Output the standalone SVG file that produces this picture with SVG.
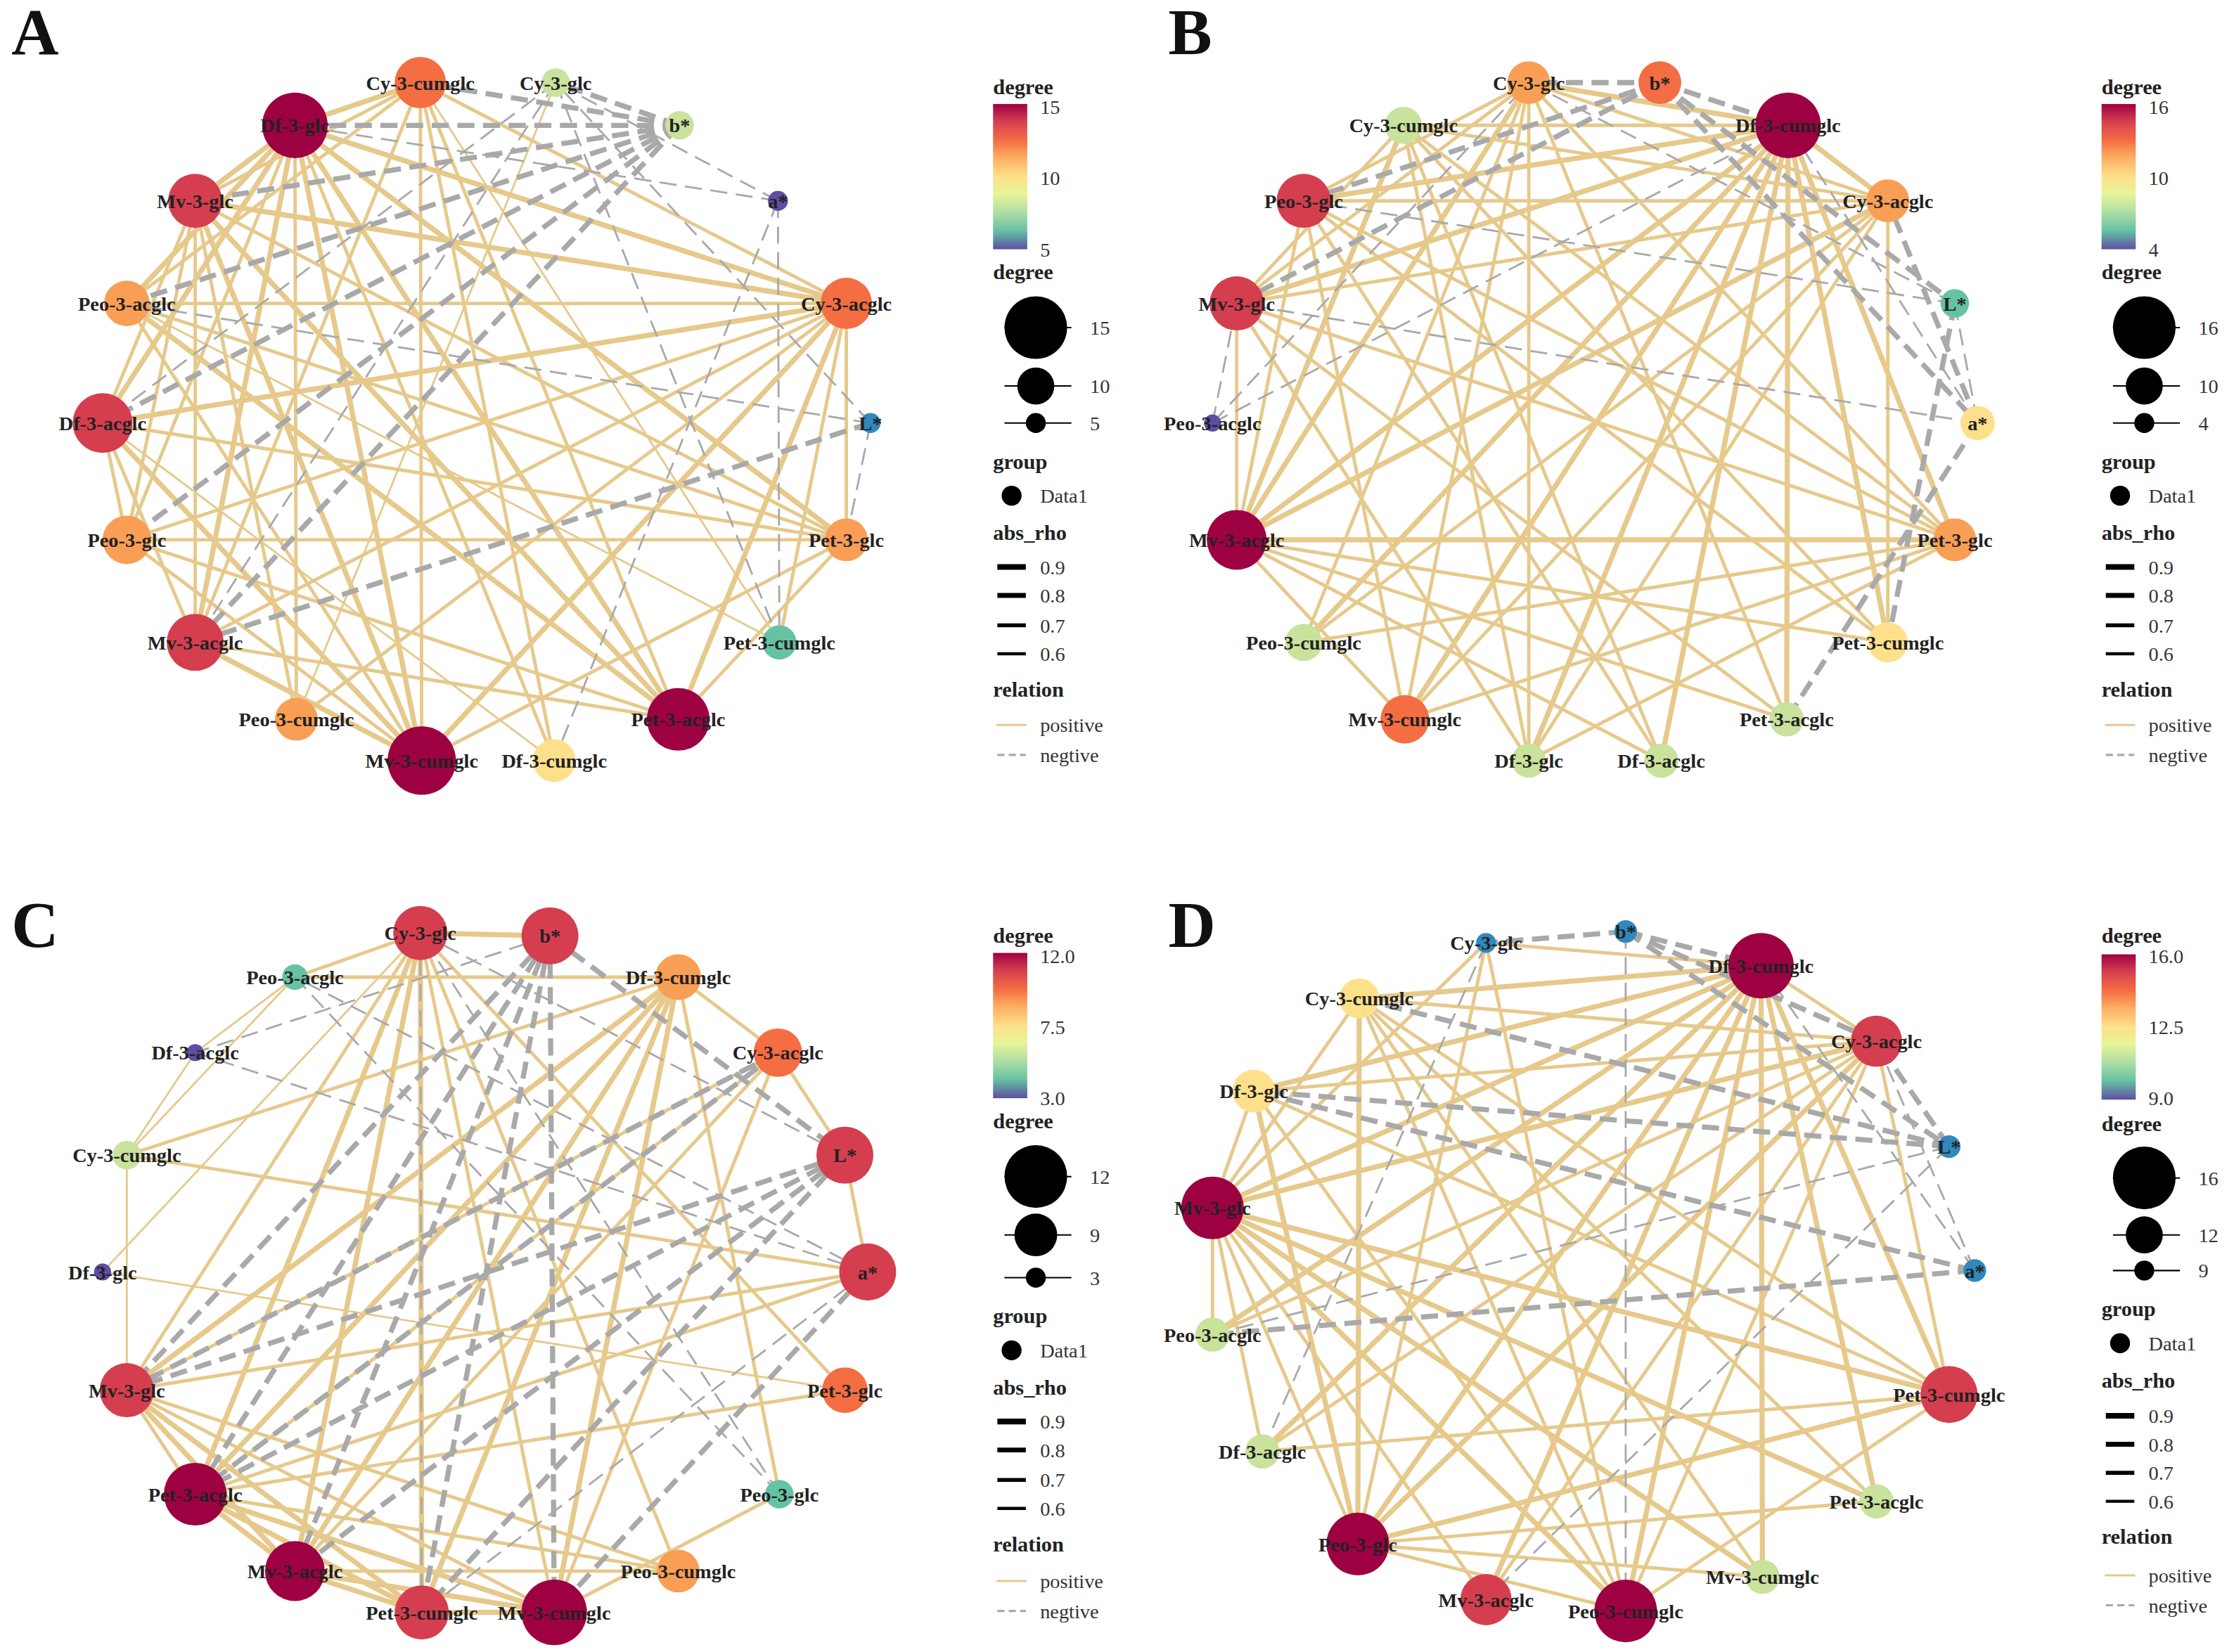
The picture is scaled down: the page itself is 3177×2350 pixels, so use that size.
<svg xmlns="http://www.w3.org/2000/svg" width="3177" height="2350" viewBox="0 0 3177 2350">
<style>
.pos{stroke:#E6C98B;fill:none;stroke-linecap:round}
.neg{stroke:#A9A9A9;fill:none;stroke-dasharray:12 6}
.w1{stroke-width:1.4}.w2{stroke-width:2.4}.w3{stroke-width:3.6}
.lb{font-family:"Liberation Serif",serif;font-weight:bold;font-size:14px;fill:#222;text-anchor:middle}
.lg{font-family:"Liberation Serif",serif;font-size:14px;fill:#333}
.lt{font-family:"Liberation Serif",serif;font-weight:bold;font-size:15px;fill:#222}
.pl{font-family:"Liberation Serif",serif;font-weight:bold;font-size:46px;fill:#111}
.c1{fill:#9E0142}.c2{fill:#D53E4F}.c3{fill:#F46D43}.c4{fill:#F99E55}.c5{fill:#FEE08B}.c6{fill:#C9E29C}.c7{fill:#66C2A5}.c8{fill:#3288BD}.c9{fill:#5E4FA2}
</style>
<defs>
<linearGradient id="sp" x1="0" y1="0" x2="0" y2="1">
<stop offset="0" stop-color="#9E0142"/><stop offset="0.12" stop-color="#D53E4F"/><stop offset="0.25" stop-color="#F46D43"/><stop offset="0.37" stop-color="#FDAE61"/><stop offset="0.5" stop-color="#FEE08B"/><stop offset="0.62" stop-color="#E6F598"/><stop offset="0.75" stop-color="#ABDDA4"/><stop offset="0.87" stop-color="#66C2A5"/><stop offset="1" stop-color="#5E4FA2"/>
</linearGradient>
</defs>
<rect width="3177" height="2350" fill="#fff"/>
<g transform="scale(2.0262)">
<g id="connectors">
<!-- A -->
<path class="pos w3" d="M207,88L594,213M207,88L594,379M207,88L476,505M207,88L296,534M207,88L137,451M207,88L72,297M207,88L89,213M207,88L137,141M207,88L295,58M137,141L594,213M137,141L476,505M137,141L296,534M594,213L72,297M594,213L296,534M594,213L476,505M296,534L72,297M476,505L89,213M296,534L137,451"/>
<path class="pos w2" d="M207,88L89,379M207,88L208,505M207,88L389,534M137,141L137,451M137,141L72,297M137,141L594,379M137,141L208,505M137,141L295,58M137,141L89,379M594,213L89,213M594,213L137,451M594,213L89,379M594,213L594,379M594,213L295,58M594,213L208,505M594,213L547,451M296,534L89,213M296,534L594,379M296,534L295,58M296,534L89,379M476,505L137,451M476,505L89,379M476,505L295,58M476,505L594,379M72,297L594,379M72,297L137,451M72,297L89,379M295,58L137,451M295,58L89,213M295,58L389,534M89,213L594,379M89,379L594,379"/>
<path class="pos w1" d="M295,58L547,451M89,213L547,451M72,297L389,534M390,58L208,505"/>
<path class="neg w3" d="M477,88L207,88M477,88L137,141M477,88L89,213M477,88L72,297M477,88L295,58M477,88L390,58M477,88L137,451M477,88L89,379M611,297L137,451"/>
<path class="neg w1" d="M546,141L390,58M546,141L547,451M546,141L389,534M546,141L207,88M611,297L390,58M611,297L89,213M611,297L594,379M390,58L547,451M390,58L137,451M390,58L72,297"/>
<!-- B -->
<path class="pos w3" d="M1255,88L915,141M1255,88L868,213M1255,88L868,379M1255,88L915,451M1255,88L986,505M1255,88L1073,534M1255,88L1166,534M1255,88L1254,505M1255,88L1325,451M1255,88L1372,379M1255,88L1325,141M1255,88L1073,58M868,379L1372,379M868,379L1325,141M868,379L1073,58M868,379L985,88"/>
<path class="pos w2" d="M1255,88L985,88M868,379L1254,505M868,379L1166,534M868,379L915,141M868,379L868,213M868,379L986,505M868,379L1325,451M1073,58L986,505M1073,58L1073,534M1073,58L1254,505M1073,58L915,451M1073,58L1372,379M1073,58L868,213M1073,58L915,141M1073,58L1325,141M985,88L1372,379M985,88L1325,451M985,88L1166,534M985,88L1073,534M985,88L1325,141M985,88L868,213M915,141L1325,141M915,141L1372,379M915,141L1325,451M915,141L1166,534M915,141L986,505M868,213L1325,141M868,213L1372,379M868,213L1254,505M868,213L1073,534M1325,141L986,505M1325,141L1073,534M1325,141L915,451M1325,141L1325,451M1372,379L986,505M1372,379L915,451M1372,379L1073,534"/>
<path class="neg w3" d="M1165,58L1073,58M1165,58L1255,88M1165,58L915,141M1165,58L868,213M1165,58L1372,213M1165,58L1388,297M1372,213L1325,451M1388,297L1325,141M1388,297L1254,505"/>
<path class="neg w1" d="M1372,213L1073,58M1372,213L915,141M1372,213L1388,297M1388,297L868,213M1388,297L1255,88M851,297L1073,58M851,297L868,213M851,297L1255,88"/>
<!-- C -->
<path class="pos w3" d="M295,655L137,1049M295,655L207,1103M295,655L296,1132M476,686L89,976M476,686L137,1049M476,686L207,1103M476,686L296,1132M476,686L389,1132M137,1049L207,1103M137,1049L296,1132M137,1049L389,1132M89,976L207,1103M89,976L296,1132M207,1103L296,1132M207,1103L389,1132M296,1132L389,1132M295,655L386,657"/>
<path class="pos w2" d="M295,655L207,686M295,655L89,976M295,655L389,1132M295,655L476,1103M295,655L593,976M476,686L547,1049M476,686L89,811M476,686L546,739M476,686L207,686M137,1049L89,976M137,1049L476,1103M137,1049L546,739M137,1049L609,893M137,1049L593,976M89,976L389,1132M89,976L546,739M89,976L609,893M89,976L476,1103M207,1103L546,739M207,1103L476,1103M389,1132L546,739M389,1132L547,1049M89,811L609,893M593,811L546,739M593,811L609,893"/>
<path class="pos w1" d="M295,655L72,893M89,811L207,686M89,811L89,976M137,739L207,686M137,739L89,811M72,893L593,976"/>
<path class="neg w3" d="M386,657L137,1049M386,657L89,976M386,657L207,1103M386,657L296,1132M386,657L389,1132M593,811L89,976M593,811L137,1049M593,811L207,1103M593,811L296,1132M546,739L89,976M546,739L137,1049M386,657L593,811M609,893L389,1132"/>
<path class="neg w1" d="M386,657L137,739M593,811L295,655M609,893L137,739M609,893L296,1132M609,893L207,686M547,1049L295,655M547,1049L207,686M295,655L296,1132M386,657L389,1132"/>
<!-- D -->
<path class="pos w3" d="M1236,678L954,701M1236,678L880,766M1236,678L851,848M1236,678L851,937M1236,678L886,1019M1236,678L953,1084M1236,678L1043,1123M1236,678L1141,1131M1236,678L1237,1107M1236,678L1317,1054M1236,678L1368,979M851,848L1317,731M851,848L1368,979M851,848L1317,1054M851,848L1237,1107M851,848L1141,1131M953,1084L954,701M953,1084L880,766M953,1084L1317,731M953,1084L1368,979"/>
<path class="pos w2" d="M1236,678L1317,731M1236,678L1043,662M851,848L1043,1123M851,848L953,1084M851,848L886,1019M851,848L851,937M851,848L880,766M851,848L954,701M851,848L1043,662M953,1084L1317,1054M953,1084L1237,1107M953,1084L1141,1131M953,1084L1043,662M1317,731L880,766M1317,731L954,701M1317,731L851,937M1317,731L886,1019M1317,731L1043,1123M1317,731L1141,1131M1317,731L1368,979M1141,1131L954,701M1141,1131L880,766M1141,1131L1368,979M1141,1131L1043,662M1368,979L954,701M1368,979L880,766M1368,979L886,1019M954,701L1237,1107M954,701L1317,1054"/>
<path class="neg w3" d="M1141,654L1043,662M1141,654L1236,678M1141,654L1317,731M1141,654L1368,805M1368,805L954,701M1368,805L880,766M1386,892L880,766M1386,892L851,937M1368,805L1317,731"/>
<path class="neg w1" d="M1141,654L1141,1131M1368,805L851,937M1368,805L1043,1123M1386,892L1236,678M1386,892L1317,731M1043,662L886,1019"/>
</g>

<!-- Panel A nodes -->
<g id="A-Cy-3-cumglc"><circle class="c3" cx="295" cy="58" r="18"/><text class="lb" x="295" y="63">Cy-3-cumglc</text></g>
<g id="A-Cy-3-glc"><circle class="c6" cx="390" cy="58" r="10"/><text class="lb" x="390" y="63">Cy-3-glc</text></g>
<g id="A-b"><circle class="c6" cx="477" cy="88" r="10"/><text class="lb" x="477" y="93">b*</text></g>
<g id="A-a"><circle class="c9" cx="546" cy="141" r="7"/><text class="lb" x="546" y="146">a*</text></g>
<g id="A-Cy-3-acglc"><circle class="c3" cx="594" cy="213" r="18"/><text class="lb" x="594" y="218">Cy-3-acglc</text></g>
<g id="A-L"><circle class="c8" cx="611" cy="297" r="7"/><text class="lb" x="611" y="302">L*</text></g>
<g id="A-Pet-3-glc"><circle class="c4" cx="594" cy="379" r="15"/><text class="lb" x="594" y="384">Pet-3-glc</text></g>
<g id="A-Pet-3-cumglc"><circle class="c7" cx="547" cy="451" r="12"/><text class="lb" x="547" y="456">Pet-3-cumglc</text></g>
<g id="A-Pet-3-acglc"><circle class="c1" cx="476" cy="505" r="22"/><text class="lb" x="476" y="510">Pet-3-acglc</text></g>
<g id="A-Df-3-cumglc"><circle class="c5" cx="389" cy="534" r="15"/><text class="lb" x="389" y="539">Df-3-cumglc</text></g>
<g id="A-Mv-3-cumglc"><circle class="c1" cx="296" cy="534" r="24"/><text class="lb" x="296" y="539">Mv-3-cumglc</text></g>
<g id="A-Peo-3-cumglc"><circle class="c4" cx="208" cy="505" r="15"/><text class="lb" x="208" y="510">Peo-3-cumglc</text></g>
<g id="A-Mv-3-acglc"><circle class="c2" cx="137" cy="451" r="20"/><text class="lb" x="137" y="456">Mv-3-acglc</text></g>
<g id="A-Peo-3-glc"><circle class="c4" cx="89" cy="379" r="17"/><text class="lb" x="89" y="384">Peo-3-glc</text></g>
<g id="A-Df-3-acglc"><circle class="c2" cx="72" cy="297" r="21"/><text class="lb" x="72" y="302">Df-3-acglc</text></g>
<g id="A-Peo-3-acglc"><circle class="c4" cx="89" cy="213" r="16"/><text class="lb" x="89" y="218">Peo-3-acglc</text></g>
<g id="A-Mv-3-glc"><circle class="c2" cx="137" cy="141" r="19"/><text class="lb" x="137" y="146">Mv-3-glc</text></g>
<g id="A-Df-3-glc"><circle class="c1" cx="207" cy="88" r="23"/><text class="lb" x="207" y="93">Df-3-glc</text></g>

<!-- Panel B nodes -->
<g id="B-Cy-3-glc"><circle class="c4" cx="1073" cy="58" r="15"/><text class="lb" x="1073" y="63">Cy-3-glc</text></g>
<g id="B-b"><circle class="c3" cx="1165" cy="58" r="15"/><text class="lb" x="1165" y="63">b*</text></g>
<g id="B-Df-3-cumglc"><circle class="c1" cx="1255" cy="88" r="23"/><text class="lb" x="1255" y="93">Df-3-cumglc</text></g>
<g id="B-Cy-3-acglc"><circle class="c4" cx="1325" cy="141" r="15"/><text class="lb" x="1325" y="146">Cy-3-acglc</text></g>
<g id="B-L"><circle class="c7" cx="1372" cy="213" r="10"/><text class="lb" x="1372" y="218">L*</text></g>
<g id="B-a"><circle class="c5" cx="1388" cy="297" r="12"/><text class="lb" x="1388" y="302">a*</text></g>
<g id="B-Pet-3-glc"><circle class="c4" cx="1372" cy="379" r="15"/><text class="lb" x="1372" y="384">Pet-3-glc</text></g>
<g id="B-Pet-3-cumglc"><circle class="c5" cx="1325" cy="451" r="14"/><text class="lb" x="1325" y="456">Pet-3-cumglc</text></g>
<g id="B-Pet-3-acglc"><circle class="c6" cx="1254" cy="505" r="12"/><text class="lb" x="1254" y="510">Pet-3-acglc</text></g>
<g id="B-Df-3-acglc"><circle class="c6" cx="1166" cy="534" r="12"/><text class="lb" x="1166" y="539">Df-3-acglc</text></g>
<g id="B-Df-3-glc"><circle class="c6" cx="1073" cy="534" r="12"/><text class="lb" x="1073" y="539">Df-3-glc</text></g>
<g id="B-Mv-3-cumglc"><circle class="c3" cx="986" cy="505" r="17"/><text class="lb" x="986" y="510">Mv-3-cumglc</text></g>
<g id="B-Peo-3-cumglc"><circle class="c6" cx="915" cy="451" r="13"/><text class="lb" x="915" y="456">Peo-3-cumglc</text></g>
<g id="B-Mv-3-acglc"><circle class="c1" cx="868" cy="379" r="21"/><text class="lb" x="868" y="384">Mv-3-acglc</text></g>
<g id="B-Peo-3-acglc"><circle class="c9" cx="851" cy="297" r="6"/><text class="lb" x="851" y="302">Peo-3-acglc</text></g>
<g id="B-Mv-3-glc"><circle class="c2" cx="868" cy="213" r="19"/><text class="lb" x="868" y="218">Mv-3-glc</text></g>
<g id="B-Peo-3-glc"><circle class="c2" cx="915" cy="141" r="19"/><text class="lb" x="915" y="146">Peo-3-glc</text></g>
<g id="B-Cy-3-cumglc"><circle class="c6" cx="985" cy="88" r="13"/><text class="lb" x="985" y="93">Cy-3-cumglc</text></g>

<!-- Panel C nodes -->
<g id="C-Cy-3-glc"><circle class="c2" cx="295" cy="655" r="19"/><text class="lb" x="295" y="660">Cy-3-glc</text></g>
<g id="C-b"><circle class="c2" cx="386" cy="657" r="20"/><text class="lb" x="386" y="662">b*</text></g>
<g id="C-Df-3-cumglc"><circle class="c4" cx="476" cy="686" r="16"/><text class="lb" x="476" y="691">Df-3-cumglc</text></g>
<g id="C-Cy-3-acglc"><circle class="c3" cx="546" cy="739" r="17"/><text class="lb" x="546" y="744">Cy-3-acglc</text></g>
<g id="C-L"><circle class="c2" cx="593" cy="811" r="20"/><text class="lb" x="593" y="816">L*</text></g>
<g id="C-a"><circle class="c2" cx="609" cy="893" r="20"/><text class="lb" x="609" y="898">a*</text></g>
<g id="C-Pet-3-glc"><circle class="c3" cx="593" cy="976" r="16"/><text class="lb" x="593" y="981">Pet-3-glc</text></g>
<g id="C-Peo-3-glc"><circle class="c7" cx="547" cy="1049" r="10"/><text class="lb" x="547" y="1054">Peo-3-glc</text></g>
<g id="C-Peo-3-cumglc"><circle class="c4" cx="476" cy="1103" r="15"/><text class="lb" x="476" y="1108">Peo-3-cumglc</text></g>
<g id="C-Mv-3-cumglc"><circle class="c1" cx="389" cy="1132" r="23"/><text class="lb" x="389" y="1137">Mv-3-cumglc</text></g>
<g id="C-Pet-3-cumglc"><circle class="c2" cx="296" cy="1132" r="19"/><text class="lb" x="296" y="1137">Pet-3-cumglc</text></g>
<g id="C-Mv-3-acglc"><circle class="c1" cx="207" cy="1103" r="21"/><text class="lb" x="207" y="1108">Mv-3-acglc</text></g>
<g id="C-Pet-3-acglc"><circle class="c1" cx="137" cy="1049" r="22"/><text class="lb" x="137" y="1054">Pet-3-acglc</text></g>
<g id="C-Mv-3-glc"><circle class="c2" cx="89" cy="976" r="19"/><text class="lb" x="89" y="981">Mv-3-glc</text></g>
<g id="C-Df-3-glc"><circle class="c9" cx="72" cy="893" r="6"/><text class="lb" x="72" y="898">Df-3-glc</text></g>
<g id="C-Cy-3-cumglc"><circle class="c6" cx="89" cy="811" r="10"/><text class="lb" x="89" y="816">Cy-3-cumglc</text></g>
<g id="C-Df-3-acglc"><circle class="c9" cx="137" cy="739" r="6"/><text class="lb" x="137" y="744">Df-3-acglc</text></g>
<g id="C-Peo-3-acglc"><circle class="c7" cx="207" cy="686" r="9"/><text class="lb" x="207" y="691">Peo-3-acglc</text></g>

<!-- Panel D nodes -->
<g id="D-Cy-3-glc"><circle class="c8" cx="1043" cy="662" r="7"/><text class="lb" x="1043" y="667">Cy-3-glc</text></g>
<g id="D-b"><circle class="c8" cx="1141" cy="654" r="8"/><text class="lb" x="1141" y="659">b*</text></g>
<g id="D-Df-3-cumglc"><circle class="c1" cx="1236" cy="678" r="23"/><text class="lb" x="1236" y="683">Df-3-cumglc</text></g>
<g id="D-Cy-3-acglc"><circle class="c2" cx="1317" cy="731" r="18"/><text class="lb" x="1317" y="736">Cy-3-acglc</text></g>
<g id="D-L"><circle class="c8" cx="1368" cy="805" r="8"/><text class="lb" x="1368" y="810">L*</text></g>
<g id="D-a"><circle class="c8" cx="1386" cy="892" r="8"/><text class="lb" x="1386" y="897">a*</text></g>
<g id="D-Pet-3-cumglc"><circle class="c2" cx="1368" cy="979" r="20"/><text class="lb" x="1368" y="984">Pet-3-cumglc</text></g>
<g id="D-Pet-3-acglc"><circle class="c6" cx="1317" cy="1054" r="12"/><text class="lb" x="1317" y="1059">Pet-3-acglc</text></g>
<g id="D-Mv-3-cumglc"><circle class="c6" cx="1237" cy="1107" r="12"/><text class="lb" x="1237" y="1112">Mv-3-cumglc</text></g>
<g id="D-Peo-3-cumglc"><circle class="c1" cx="1141" cy="1131" r="22"/><text class="lb" x="1141" y="1136">Peo-3-cumglc</text></g>
<g id="D-Mv-3-acglc"><circle class="c2" cx="1043" cy="1123" r="18"/><text class="lb" x="1043" y="1128">Mv-3-acglc</text></g>
<g id="D-Peo-3-glc"><circle class="c1" cx="953" cy="1084" r="22"/><text class="lb" x="953" y="1089">Peo-3-glc</text></g>
<g id="D-Df-3-acglc"><circle class="c6" cx="886" cy="1019" r="12"/><text class="lb" x="886" y="1024">Df-3-acglc</text></g>
<g id="D-Peo-3-acglc"><circle class="c6" cx="851" cy="937" r="12"/><text class="lb" x="851" y="942">Peo-3-acglc</text></g>
<g id="D-Mv-3-glc"><circle class="c1" cx="851" cy="848" r="22"/><text class="lb" x="851" y="853">Mv-3-glc</text></g>
<g id="D-Df-3-glc"><circle class="c5" cx="880" cy="766" r="15"/><text class="lb" x="880" y="771">Df-3-glc</text></g>
<g id="D-Cy-3-cumglc"><circle class="c5" cx="954" cy="701" r="14"/><text class="lb" x="954" y="706">Cy-3-cumglc</text></g>

<!-- panel letters -->
<text class="pl" x="8" y="38">A</text>
<text class="pl" x="820" y="38">B</text>
<text class="pl" x="8" y="665">C</text>
<text class="pl" x="820" y="665">D</text>

<!-- Legends -->
<g id="legend-A">
<text class="lt" x="697" y="66">degree</text>
<rect x="697" y="73" width="24" height="102" fill="url(#sp)"/>
<text class="lg" x="730" y="80">15</text><text class="lg" x="730" y="130">10</text><text class="lg" x="730" y="180">5</text>
<text class="lt" x="697" y="196">degree</text>
<line x1="705" y1="230" x2="752" y2="230" stroke="#000" stroke-width="1"/><circle cx="727" cy="230" r="22" fill="#000"/><text class="lg" x="765" y="235">15</text>
<line x1="705" y1="271" x2="752" y2="271" stroke="#000" stroke-width="1"/><circle cx="727" cy="271" r="13" fill="#000"/><text class="lg" x="765" y="276">10</text>
<line x1="705" y1="297" x2="752" y2="297" stroke="#000" stroke-width="1"/><circle cx="727" cy="297" r="7" fill="#000"/><text class="lg" x="765" y="302">5</text>
<text class="lt" x="697" y="329">group</text>
<circle cx="710" cy="348" r="7" fill="#000"/><text class="lg" x="730" y="353">Data1</text>
<text class="lt" x="697" y="379">abs_rho</text>
<line x1="700" y1="398" x2="720" y2="398" stroke="#000" stroke-width="4"/><text class="lg" x="730" y="403">0.9</text>
<line x1="700" y1="418" x2="720" y2="418" stroke="#000" stroke-width="3.4"/><text class="lg" x="730" y="423">0.8</text>
<line x1="700" y1="439" x2="720" y2="439" stroke="#000" stroke-width="2.8"/><text class="lg" x="730" y="444">0.7</text>
<line x1="700" y1="459" x2="720" y2="459" stroke="#000" stroke-width="2.2"/><text class="lg" x="730" y="464">0.6</text>
<text class="lt" x="697" y="489">relation</text>
<line class="pos" x1="700" y1="509" x2="720" y2="509" stroke-width="1.5"/><text class="lg" x="730" y="514">positive</text>
<line class="neg" x1="700" y1="530" x2="720" y2="530" stroke-width="1.5" style="stroke-dasharray:5 3"/><text class="lg" x="730" y="535">negtive</text>
</g>
<g id="legend-B" transform="translate(778,0)">
<text class="lt" x="697" y="66">degree</text>
<rect x="697" y="73" width="24" height="102" fill="url(#sp)"/>
<text class="lg" x="730" y="80">16</text><text class="lg" x="730" y="130">10</text><text class="lg" x="730" y="180">4</text>
<text class="lt" x="697" y="196">degree</text>
<line x1="705" y1="230" x2="752" y2="230" stroke="#000" stroke-width="1"/><circle cx="727" cy="230" r="22" fill="#000"/><text class="lg" x="765" y="235">16</text>
<line x1="705" y1="271" x2="752" y2="271" stroke="#000" stroke-width="1"/><circle cx="727" cy="271" r="13" fill="#000"/><text class="lg" x="765" y="276">10</text>
<line x1="705" y1="297" x2="752" y2="297" stroke="#000" stroke-width="1"/><circle cx="727" cy="297" r="7" fill="#000"/><text class="lg" x="765" y="302">4</text>
<text class="lt" x="697" y="329">group</text>
<circle cx="710" cy="348" r="7" fill="#000"/><text class="lg" x="730" y="353">Data1</text>
<text class="lt" x="697" y="379">abs_rho</text>
<line x1="700" y1="398" x2="720" y2="398" stroke="#000" stroke-width="4"/><text class="lg" x="730" y="403">0.9</text>
<line x1="700" y1="418" x2="720" y2="418" stroke="#000" stroke-width="3.4"/><text class="lg" x="730" y="423">0.8</text>
<line x1="700" y1="439" x2="720" y2="439" stroke="#000" stroke-width="2.8"/><text class="lg" x="730" y="444">0.7</text>
<line x1="700" y1="459" x2="720" y2="459" stroke="#000" stroke-width="2.2"/><text class="lg" x="730" y="464">0.6</text>
<text class="lt" x="697" y="489">relation</text>
<line class="pos" x1="700" y1="509" x2="720" y2="509" stroke-width="1.5"/><text class="lg" x="730" y="514">positive</text>
<line class="neg" x1="700" y1="530" x2="720" y2="530" stroke-width="1.5" style="stroke-dasharray:5 3"/><text class="lg" x="730" y="535">negtive</text>
</g>
<g id="legend-C" transform="translate(0,596)">
<text class="lt" x="697" y="66">degree</text>
<rect x="697" y="73" width="24" height="102" fill="url(#sp)"/>
<text class="lg" x="730" y="80">12.0</text><text class="lg" x="730" y="130">7.5</text><text class="lg" x="730" y="180">3.0</text>
<text class="lt" x="697" y="196">degree</text>
<line x1="705" y1="230" x2="752" y2="230" stroke="#000" stroke-width="1"/><circle cx="727" cy="230" r="22" fill="#000"/><text class="lg" x="765" y="235">12</text>
<line x1="705" y1="271" x2="752" y2="271" stroke="#000" stroke-width="1"/><circle cx="727" cy="271" r="15" fill="#000"/><text class="lg" x="765" y="276">9</text>
<line x1="705" y1="301" x2="752" y2="301" stroke="#000" stroke-width="1"/><circle cx="727" cy="301" r="7" fill="#000"/><text class="lg" x="765" y="306">3</text>
<text class="lt" x="697" y="333">group</text>
<circle cx="710" cy="352" r="7" fill="#000"/><text class="lg" x="730" y="357">Data1</text>
<text class="lt" x="697" y="383">abs_rho</text>
<line x1="700" y1="402" x2="720" y2="402" stroke="#000" stroke-width="4"/><text class="lg" x="730" y="407">0.9</text>
<line x1="700" y1="422" x2="720" y2="422" stroke="#000" stroke-width="3.4"/><text class="lg" x="730" y="427">0.8</text>
<line x1="700" y1="443" x2="720" y2="443" stroke="#000" stroke-width="2.8"/><text class="lg" x="730" y="448">0.7</text>
<line x1="700" y1="463" x2="720" y2="463" stroke="#000" stroke-width="2.2"/><text class="lg" x="730" y="468">0.6</text>
<text class="lt" x="697" y="493">relation</text>
<line class="pos" x1="700" y1="514" x2="720" y2="514" stroke-width="1.5"/><text class="lg" x="730" y="519">positive</text>
<line class="neg" x1="700" y1="535" x2="720" y2="535" stroke-width="1.5" style="stroke-dasharray:5 3"/><text class="lg" x="730" y="540">negtive</text>
</g>
<g id="legend-D" transform="translate(778,596)">
<text class="lt" x="697" y="66">degree</text>
<rect x="697" y="74" width="24" height="102" fill="url(#sp)"/>
<text class="lg" x="730" y="80">16.0</text><text class="lg" x="730" y="130">12.5</text><text class="lg" x="730" y="180">9.0</text>
<text class="lt" x="697" y="198">degree</text>
<line x1="705" y1="231" x2="752" y2="231" stroke="#000" stroke-width="1"/><circle cx="727" cy="231" r="22" fill="#000"/><text class="lg" x="765" y="236">16</text>
<line x1="705" y1="271" x2="752" y2="271" stroke="#000" stroke-width="1"/><circle cx="727" cy="271" r="13" fill="#000"/><text class="lg" x="765" y="276">12</text>
<line x1="705" y1="296" x2="752" y2="296" stroke="#000" stroke-width="1"/><circle cx="727" cy="296" r="7" fill="#000"/><text class="lg" x="765" y="301">9</text>
<text class="lt" x="697" y="328">group</text>
<circle cx="710" cy="347" r="7" fill="#000"/><text class="lg" x="730" y="352">Data1</text>
<text class="lt" x="697" y="378">abs_rho</text>
<line x1="700" y1="398" x2="720" y2="398" stroke="#000" stroke-width="4"/><text class="lg" x="730" y="403">0.9</text>
<line x1="700" y1="418" x2="720" y2="418" stroke="#000" stroke-width="3.4"/><text class="lg" x="730" y="423">0.8</text>
<line x1="700" y1="438" x2="720" y2="438" stroke="#000" stroke-width="2.8"/><text class="lg" x="730" y="443">0.7</text>
<line x1="700" y1="458" x2="720" y2="458" stroke="#000" stroke-width="2.2"/><text class="lg" x="730" y="463">0.6</text>
<text class="lt" x="697" y="488">relation</text>
<line class="pos" x1="700" y1="510" x2="720" y2="510" stroke-width="1.5"/><text class="lg" x="730" y="515">positive</text>
<line class="neg" x1="700" y1="531" x2="720" y2="531" stroke-width="1.5" style="stroke-dasharray:5 3"/><text class="lg" x="730" y="536">negtive</text>
</g>
</g>
</svg>
